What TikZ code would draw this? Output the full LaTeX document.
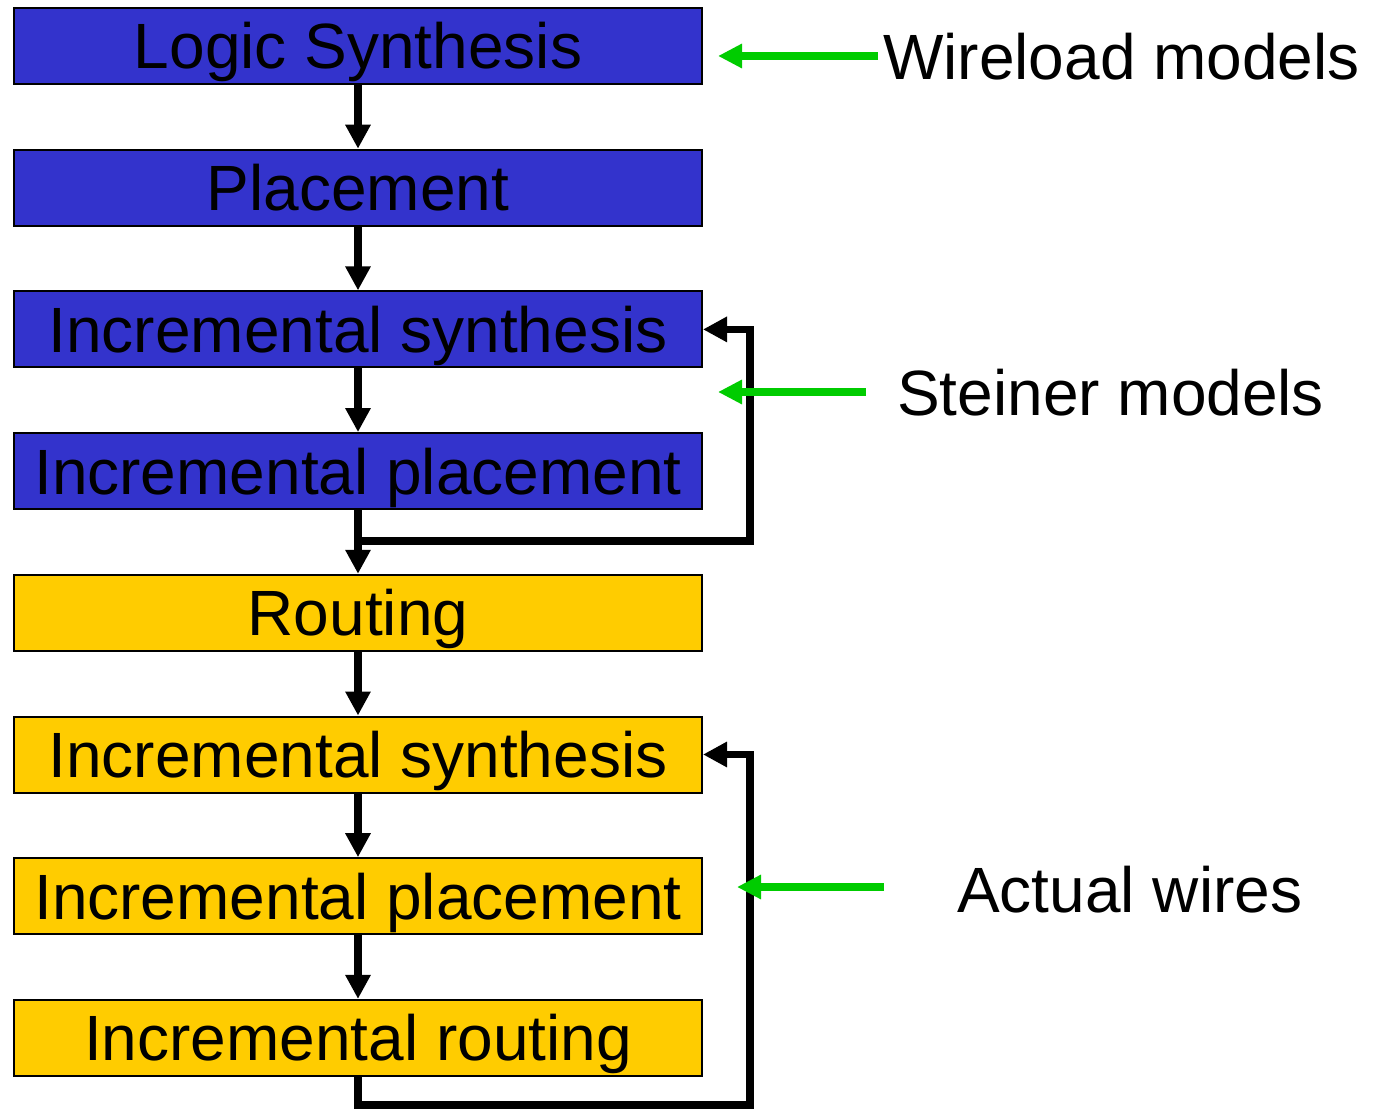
\documentclass[tikz,border=0pt]{standalone}
\usepackage{fontspec}
\setmainfont{Liberation Sans}
\usetikzlibrary{arrows.meta}
\definecolor{stepblue}{HTML}{3333CC}
\definecolor{stepgold}{HTML}{FFCC00}
\definecolor{modelgreen}{HTML}{00CC00}
\begin{document}
\begin{tikzpicture}[x=1pt,y=-1pt,
  stage/.style={draw=black, line width=2pt, minimum width=688pt, minimum height=76pt,
    inner sep=0pt, text height=46pt, text depth=0pt, font=\fontsize{64}{77}\selectfont},
  bluestage/.style={stage, fill=stepblue},
  goldstage/.style={stage, fill=stepgold},
  flow/.style={line width=7.5pt, line join=miter, -{Triangle[width=24pt,length=24pt]}},
  model/.style={draw=modelgreen, line width=7.5pt, -{Triangle[width=23pt,length=24pt]}},
  modeltext/.style={anchor=base west, inner sep=0pt, font=\fontsize{64}{77}\selectfont}]

\fill[white] (0,0) rectangle (1377,1115);
\useasboundingbox (0,0) rectangle (1377,1115);

% design flow stages
\node[bluestage] (s1) at (358,46)    {Logic Synthesis};
\node[bluestage] (s2) at (358,187.7) {Placement};
\node[bluestage] (s3) at (358,329.4) {Incremental synthesis};
\node[bluestage] (s4) at (358,471.1) {Incremental placement};
\node[goldstage] (s5) at (358,612.8) {Routing};
\node[goldstage] (s6) at (358,754.5) {Incremental synthesis};
\node[goldstage] (s7) at (358,896.2) {Incremental placement};
\node[goldstage] (s8) at (358,1037.9) {Incremental routing};

% forward flow
\draw[flow] (s1) -- (s2);
\draw[flow] (s2) -- (s3);
\draw[flow] (s3) -- (s4);
\draw[flow] (s4) -- (s5);
\draw[flow] (s5) -- (s6);
\draw[flow] (s6) -- (s7);
\draw[flow] (s7) -- (s8);

% iteration loops
\coordinate (j1) at (358,541);
\coordinate (r1) at (750,329.4);
\draw[flow] (j1) -| (r1) -- (s3.east);

\coordinate (j2) at (358,1105);
\coordinate (r2) at (750,754.5);
\draw[flow] (s8.south) -- (j2) -| (r2) -- (s6.east);

% wire models
\node[modeltext] (wl) at (883,80)  {Wireload models};
\node[modeltext] (st) at (897,416) {Steiner models};
\node[modeltext] (aw) at (957,912) {Actual wires};

\coordinate (wlA) at (878,56);  \coordinate (wlB) at (718,56);
\coordinate (stA) at (866,392); \coordinate (stB) at (718,392);
\coordinate (awA) at (884,887); \coordinate (awB) at (737,887);
\draw[model] (wlA) -- (wlB);
\draw[model] (stA) -- (stB);
\draw[model] (awA) -- (awB);
\end{tikzpicture}
\end{document}
